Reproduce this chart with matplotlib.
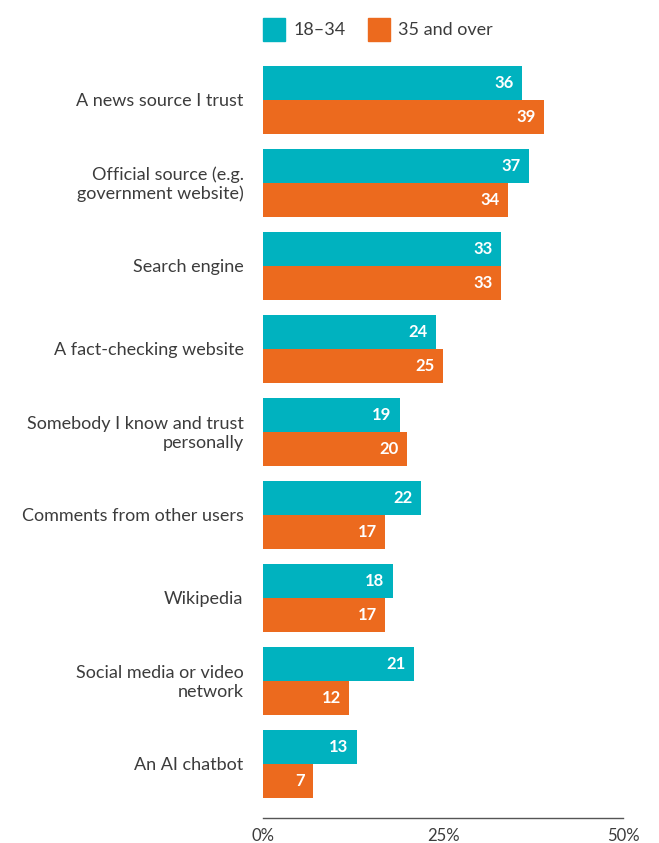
import matplotlib.pyplot as plt
import numpy as np
from matplotlib.patches import Rectangle

plt.rcParams['font.family'] = ['Lato', 'DejaVu Sans']

categories = [
    "A news source I trust",
    "Official source (e.g.\ngovernment website)",
    "Search engine",
    "A fact-checking website",
    "Somebody I know and trust\npersonally",
    "Comments from other users",
    "Wikipedia",
    "Social media or video\nnetwork",
    "An AI chatbot",
]
young = [36, 37, 33, 24, 19, 22, 18, 21, 13]
older = [39, 34, 33, 25, 20, 17, 17, 12, 7]
series_names = ["18\u201334", "35 and over"]
ticks = [0, 25, 50]
tick_labels = ["0%", "25%", "50%"]

TEAL = "#00b2bf"
ORANGE = "#ec6a1e"
TEXT = "#3c3c3c"

W, H = 659, 843
fig = plt.figure(figsize=(W / 100, H / 100), dpi=100)
ax = fig.add_axes([263 / W, 1 - 818 / H, 360 / W, 752 / H])

y = np.arange(len(categories))
bh = 34 / 83
ax.barh(y - bh / 2, young, height=bh, color=TEAL)
ax.barh(y + bh / 2, older, height=bh, color=ORANGE)

for yi, v in zip(y, young):
    ax.annotate(str(v), (v, yi - bh / 2), xytext=(-6, 0), textcoords="offset points",
                ha="right", va="center", color="white", fontsize=12, fontweight="bold")
for yi, v in zip(y, older):
    ax.annotate(str(v), (v, yi + bh / 2), xytext=(-6, 0), textcoords="offset points",
                ha="right", va="center", color="white", fontsize=12, fontweight="bold")

for yi, c in zip(y, categories):
    ax.annotate(c, (0, yi), xytext=(-14, -1), textcoords="offset points",
                ha="right", va="center", color=TEXT, fontsize=13, linespacing=1.2)

ax.set_xlim(0, 50)
ax.set_ylim(8 + 54 / 83, -bh)
ax.set_yticks([])
ax.set_xticks(ticks)
ax.set_xticklabels(tick_labels, color=TEXT, fontsize=12)
ax.tick_params(axis="x", length=0, pad=7)
for s in ["top", "right", "left"]:
    ax.spines[s].set_visible(False)
ax.spines["bottom"].set_color("#555555")
ax.spines["bottom"].set_linewidth(1)

# legend
for x0, col, name, tx in [(263, TEAL, series_names[0], 294), (368, ORANGE, series_names[1], 398)]:
    fig.patches.append(Rectangle((x0 / W, 1 - 41 / H), 22 / W, 23 / H, color=col,
                                 transform=fig.transFigure))
    fig.text(tx / W, 1 - 30 / H, name, ha="left", va="center", color=TEXT, fontsize=13)

fig.savefig("out.png", dpi=100)
